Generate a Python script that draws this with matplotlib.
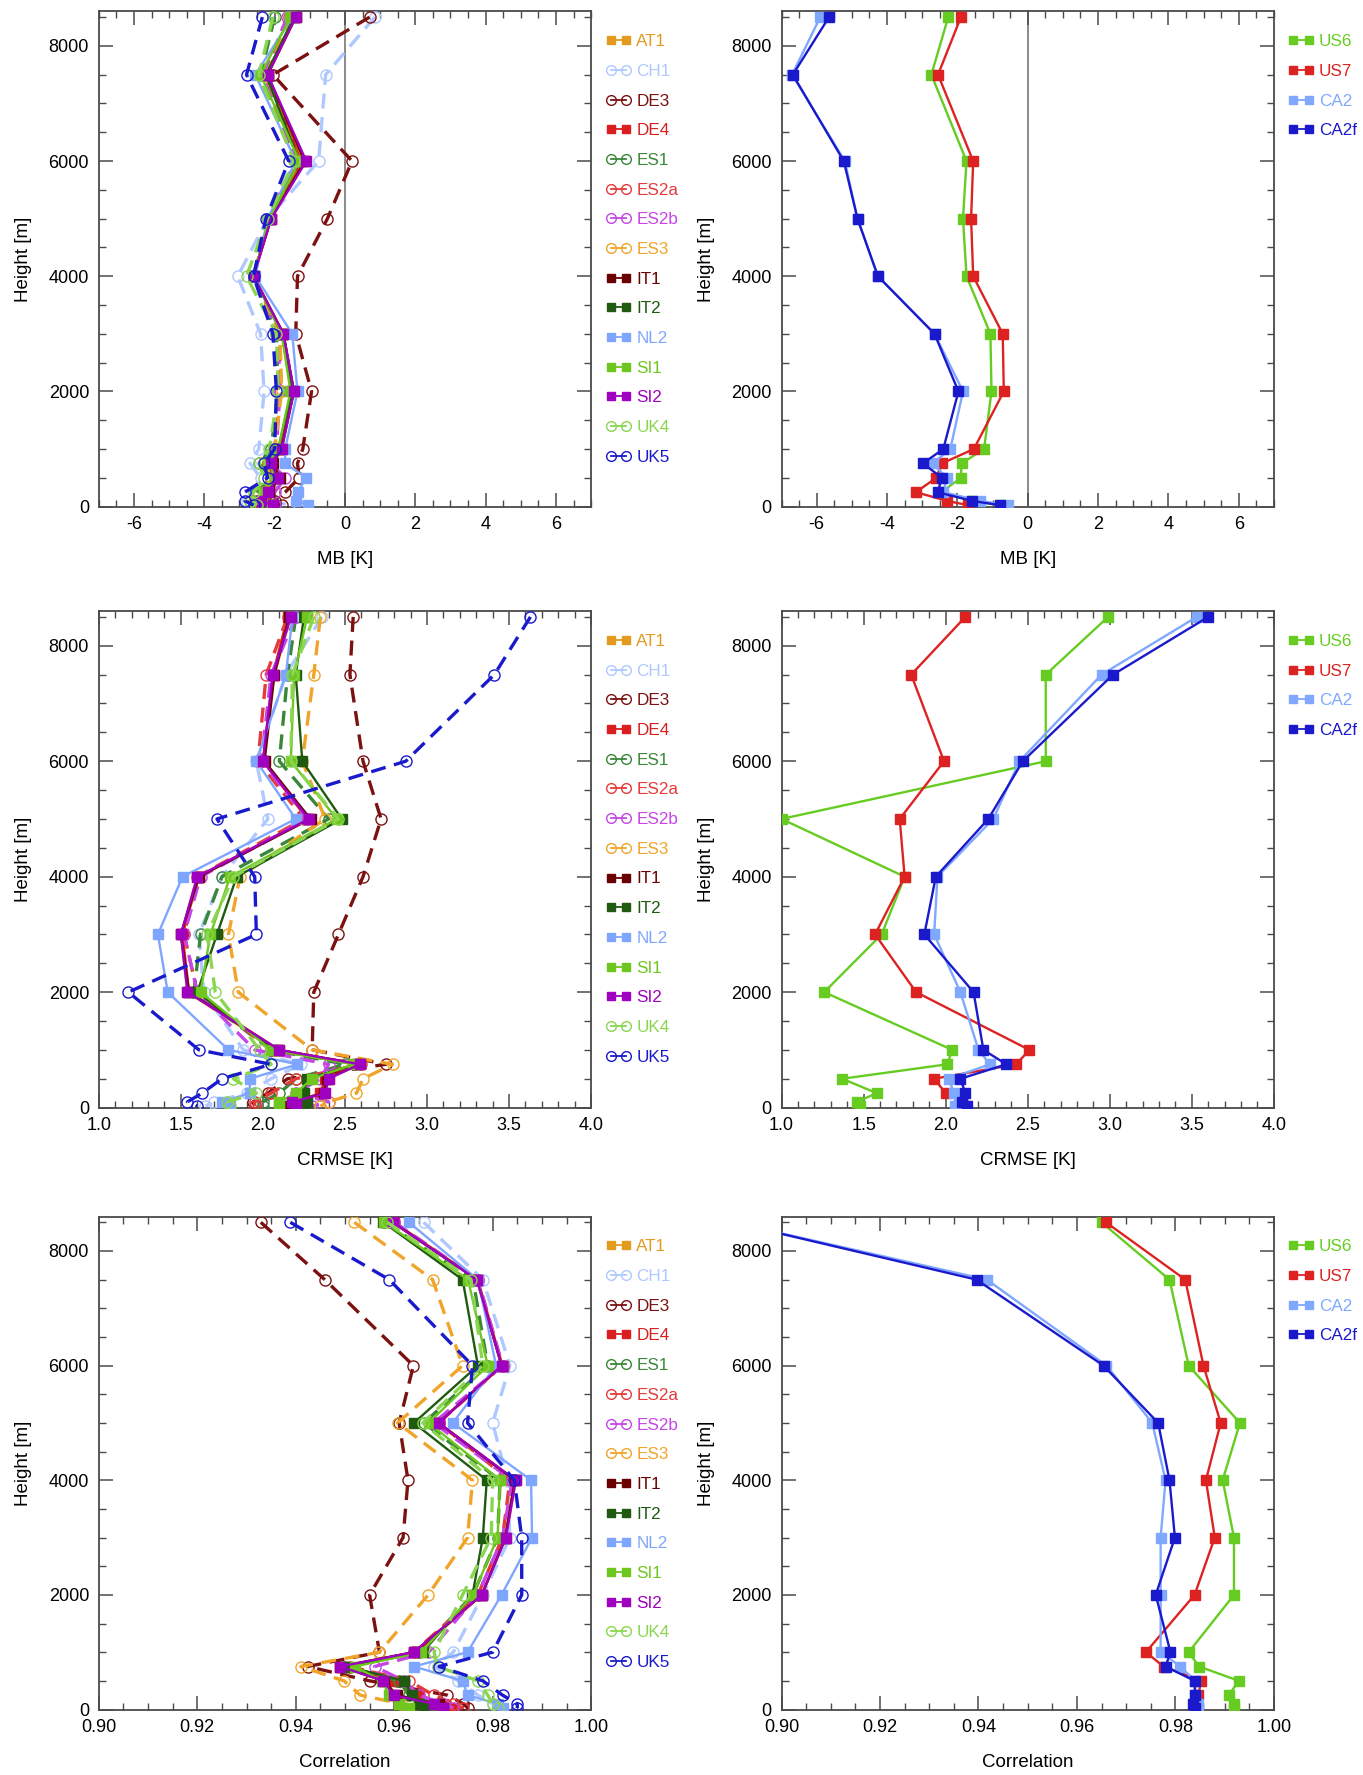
import matplotlib
matplotlib.use("Agg")
import matplotlib.pyplot as plt
from matplotlib.lines import Line2D
from matplotlib.ticker import MultipleLocator

plt.rcParams['font.family'] = ['Liberation Sans', 'DejaVu Sans']

heights = [8500, 7500, 6000, 5000, 4000, 3000, 2000, 1000, 750, 500, 250, 100, 25]

names_left = ["AT1", "CH1", "DE3", "DE4", "ES1", "ES2a", "ES2b", "ES3",
              "IT1", "IT2", "NL2", "SI1", "SI2", "UK4", "UK5"]
names_right = ["US6", "US7", "CA2", "CA2f"]

# ---- MB [K] ----
mb_AT1  = [-1.40, -2.20, -1.20, -2.10, -2.60, -1.75, -1.45, -1.85, -2.10, -1.90, -2.20, -2.40, -2.10]
mb_CH1  = [0.85, -0.55, -0.75, -2.20, -3.05, -2.40, -2.30, -2.45, -2.70, -2.40, -2.60, -2.80, -1.30]
mb_DE3  = [0.70, -2.05, 0.20, -0.50, -1.35, -1.40, -0.95, -1.20, -1.35, -1.30, -1.70, -2.00, -1.80]
mb_DE4  = [-1.45, -2.20, -1.25, -2.15, -2.60, -1.75, -1.50, -1.85, -2.15, -1.95, -2.25, -2.40, -2.20]
mb_ES1  = [-2.00, -2.40, -1.40, -2.20, -2.60, -1.95, -1.90, -2.10, -2.45, -2.10, -2.50, -2.70, -2.30]
mb_ES2a = [-1.60, -2.30, -1.35, -2.15, -2.60, -1.85, -1.85, -2.00, -2.20, -2.00, -2.15, -2.50, -2.20]
mb_ES2b = [-1.65, -2.30, -1.40, -2.20, -2.60, -1.90, -1.85, -1.95, -2.10, -1.70, -2.00, -2.40, -2.00]
mb_ES3  = [-1.50, -2.25, -1.30, -2.15, -2.60, -1.85, -1.80, -2.00, -2.30, -2.10, -2.30, -2.60, -2.30]
mb_IT1  = [-1.40, -2.20, -1.15, -2.10, -2.60, -1.75, -1.45, -1.80, -2.05, -1.85, -2.15, -2.40, -2.10]
mb_IT2  = [-1.45, -2.25, -1.30, -2.15, -2.60, -1.80, -1.50, -1.90, -2.20, -1.95, -2.30, -2.50, -2.20]
mb_NL2  = [-1.50, -2.55, -1.40, -2.20, -2.55, -1.50, -1.35, -1.70, -1.70, -1.10, -1.35, -1.40, -1.05]
mb_SI1  = [-1.55, -2.40, -1.30, -2.15, -2.60, -1.80, -1.55, -1.90, -2.20, -1.95, -2.30, -2.50, -2.10]
mb_SI2  = [-1.40, -2.20, -1.10, -2.10, -2.60, -1.75, -1.45, -1.80, -2.10, -1.90, -2.20, -2.40, -2.05]
mb_UK4  = [-2.05, -2.45, -1.45, -2.20, -2.80, -1.95, -1.90, -2.15, -2.45, -2.30, -2.60, -2.70, -2.50]
mb_UK5  = [-2.35, -2.80, -1.60, -2.25, -2.60, -2.05, -1.95, -2.00, -2.30, -2.20, -2.85, -2.85, -2.60]

mb_US6  = [-2.26, -2.74, -1.74, -1.84, -1.74, -1.06, -1.03, -1.24, -1.88, -1.90, -2.45, -1.60, -0.80]
mb_US7  = [-1.90, -2.55, -1.55, -1.61, -1.55, -0.71, -0.68, -1.53, -2.44, -2.60, -3.18, -2.30, -1.70]
mb_CA2  = [-5.90, -6.70, -5.20, -4.84, -4.26, -2.65, -1.84, -2.20, -2.70, -2.30, -2.40, -1.35, -0.57]
mb_CA2f = [-5.65, -6.68, -5.23, -4.84, -4.26, -2.65, -1.97, -2.40, -2.98, -2.44, -2.56, -1.59, -0.80]

# ---- CRMSE [K] ----
cr_AT1  = [2.17, 2.07, 2.00, 2.28, 1.60, 1.50, 1.54, 2.08, 2.58, 2.40, 2.36, 2.18, 2.15]
cr_CH1  = [2.36, 2.14, 1.96, 2.03, 1.75, 1.61, 1.64, 1.88, 2.23, 2.05, 1.90, 1.70, 1.65]
cr_DE3  = [2.55, 2.53, 2.61, 2.72, 2.61, 2.46, 2.31, 2.30, 2.75, 2.15, 2.03, 1.94, 1.95]
cr_DE4  = [2.15, 2.06, 2.00, 2.27, 1.61, 1.51, 1.55, 2.10, 2.58, 2.38, 2.35, 2.20, 2.20]
cr_ES1  = [2.20, 2.15, 2.10, 2.40, 1.75, 1.62, 1.58, 2.05, 2.50, 2.20, 2.10, 2.00, 2.00]
cr_ES2a = [2.15, 2.02, 1.97, 2.25, 1.60, 1.52, 1.60, 2.05, 2.60, 2.20, 2.05, 1.95, 1.95]
cr_ES2b = [2.20, 2.05, 1.99, 2.27, 1.62, 1.52, 1.60, 1.95, 2.40, 2.35, 2.20, 2.40, 2.30]
cr_ES3  = [2.35, 2.31, 2.24, 2.38, 1.86, 1.79, 1.85, 2.30, 2.79, 2.61, 2.57, 2.40, 2.35]
cr_IT1  = [2.16, 2.07, 2.01, 2.29, 1.61, 1.50, 1.55, 2.09, 2.59, 2.39, 2.37, 2.19, 2.15]
cr_IT2  = [2.25, 2.20, 2.24, 2.48, 1.84, 1.72, 1.60, 2.06, 2.57, 2.27, 2.25, 2.27, 2.25]
cr_NL2  = [2.18, 2.14, 1.96, 2.20, 1.51, 1.36, 1.42, 1.79, 2.21, 1.92, 1.92, 1.75, 1.80]
cr_SI1  = [2.27, 2.19, 2.17, 2.45, 1.80, 1.68, 1.62, 2.05, 2.55, 2.30, 2.20, 2.10, 2.10]
cr_SI2  = [2.17, 2.06, 2.00, 2.28, 1.60, 1.50, 1.54, 2.10, 2.59, 2.40, 2.38, 2.18, 2.20]
cr_UK4  = [2.31, 2.18, 2.17, 2.46, 1.82, 1.66, 1.71, 1.98, 2.05, 1.82, 1.96, 1.78, 1.80]
cr_UK5  = [3.63, 3.41, 2.87, 1.72, 1.95, 1.96, 1.18, 1.61, 2.05, 1.75, 1.63, 1.54, 1.60]

cr_US6  = [2.99, 2.61, 2.61, 1.00, 1.75, 1.61, 1.26, 2.04, 2.01, 1.37, 1.58, 1.46, 1.48]
cr_US7  = [2.12, 1.79, 1.99, 1.72, 1.75, 1.57, 1.82, 2.51, 2.43, 1.93, 2.00, 2.10, 2.12]
cr_CA2  = [3.53, 2.95, 2.45, 2.29, 1.95, 1.93, 2.09, 2.20, 2.27, 2.02, 2.05, 2.08, 2.06]
cr_CA2f = [3.60, 3.02, 2.47, 2.26, 1.94, 1.87, 2.17, 2.23, 2.37, 2.09, 2.12, 2.10, 2.13]

# ---- Correlation ----
co_AT1  = [0.9597, 0.9768, 0.9818, 0.9690, 0.9847, 0.9827, 0.9778, 0.9640, 0.9490, 0.9578, 0.9600, 0.9680, 0.9700]
co_CH1  = [0.9660, 0.9780, 0.9835, 0.9800, 0.9830, 0.9835, 0.9780, 0.9720, 0.9680, 0.9730, 0.9770, 0.9800, 0.9810]
co_DE3  = [0.9329, 0.9459, 0.9639, 0.9610, 0.9628, 0.9618, 0.9550, 0.9570, 0.9424, 0.9550, 0.9708, 0.9740, 0.9750]
co_DE4  = [0.9600, 0.9770, 0.9820, 0.9690, 0.9845, 0.9825, 0.9778, 0.9645, 0.9495, 0.9600, 0.9650, 0.9700, 0.9720]
co_ES1  = [0.9580, 0.9760, 0.9790, 0.9660, 0.9815, 0.9810, 0.9760, 0.9650, 0.9500, 0.9610, 0.9630, 0.9670, 0.9690]
co_ES2a = [0.9600, 0.9770, 0.9820, 0.9690, 0.9835, 0.9820, 0.9770, 0.9640, 0.9510, 0.9630, 0.9680, 0.9720, 0.9740]
co_ES2b = [0.9600, 0.9770, 0.9820, 0.9680, 0.9840, 0.9820, 0.9770, 0.9670, 0.9560, 0.9620, 0.9650, 0.9700, 0.9720]
co_ES3  = [0.9519, 0.9678, 0.9739, 0.9607, 0.9759, 0.9749, 0.9669, 0.9570, 0.9410, 0.9498, 0.9531, 0.9614, 0.9640]
co_IT1  = [0.9597, 0.9768, 0.9818, 0.9690, 0.9845, 0.9826, 0.9778, 0.9640, 0.9490, 0.9580, 0.9605, 0.9690, 0.9700]
co_IT2  = [0.9578, 0.9739, 0.9770, 0.9640, 0.9788, 0.9780, 0.9759, 0.9658, 0.9505, 0.9620, 0.9637, 0.9651, 0.9660]
co_NL2  = [0.9630, 0.9770, 0.9807, 0.9719, 0.9878, 0.9880, 0.9818, 0.9749, 0.9640, 0.9739, 0.9749, 0.9810, 0.9820]
co_SI1  = [0.9580, 0.9750, 0.9790, 0.9670, 0.9815, 0.9810, 0.9760, 0.9655, 0.9520, 0.9575, 0.9590, 0.9610, 0.9630]
co_SI2  = [0.9597, 0.9768, 0.9818, 0.9690, 0.9847, 0.9827, 0.9778, 0.9640, 0.9490, 0.9578, 0.9599, 0.9680, 0.9700]
co_UK4  = [0.9586, 0.9756, 0.9780, 0.9658, 0.9800, 0.9797, 0.9739, 0.9681, 0.9688, 0.9770, 0.9790, 0.9800, 0.9810]
co_UK5  = [0.9389, 0.9590, 0.9759, 0.9749, 0.9844, 0.9859, 0.9859, 0.9800, 0.9691, 0.9780, 0.9820, 0.9850, 0.9850]

co_US6  = [0.9650, 0.9788, 0.9827, 0.9931, 0.9896, 0.9919, 0.9919, 0.9827, 0.9848, 0.9929, 0.9908, 0.9920, 0.9920]
co_US7  = [0.9659, 0.9820, 0.9857, 0.9892, 0.9862, 0.9880, 0.9839, 0.9740, 0.9776, 0.9853, 0.9846, 0.9840, 0.9845]
co_CA2  = [0.8900, 0.9417, 0.9660, 0.9753, 0.9780, 0.9770, 0.9770, 0.9770, 0.9810, 0.9840, 0.9840, 0.9845, 0.9845]
co_CA2f = [0.8900, 0.9396, 0.9654, 0.9765, 0.9788, 0.9799, 0.9760, 0.9790, 0.9780, 0.9839, 0.9840, 0.9835, 0.9840]

mb_left = [mb_AT1, mb_CH1, mb_DE3, mb_DE4, mb_ES1, mb_ES2a, mb_ES2b, mb_ES3,
           mb_IT1, mb_IT2, mb_NL2, mb_SI1, mb_SI2, mb_UK4, mb_UK5]
cr_left = [cr_AT1, cr_CH1, cr_DE3, cr_DE4, cr_ES1, cr_ES2a, cr_ES2b, cr_ES3,
           cr_IT1, cr_IT2, cr_NL2, cr_SI1, cr_SI2, cr_UK4, cr_UK5]
co_left = [co_AT1, co_CH1, co_DE3, co_DE4, co_ES1, co_ES2a, co_ES2b, co_ES3,
           co_IT1, co_IT2, co_NL2, co_SI1, co_SI2, co_UK4, co_UK5]
mb_right = [mb_US6, mb_US7, mb_CA2, mb_CA2f]
cr_right = [cr_US6, cr_US7, cr_CA2, cr_CA2f]
co_right = [co_US6, co_US7, co_CA2, co_CA2f]

# styles: (color, marker, dashed?)
style_left = {
    "AT1":  ("#E39B1F", "s", False),
    "CH1":  ("#AFC8FF", "o", True),
    "DE3":  ("#7B1111", "o", True),
    "DE4":  ("#D81E1E", "s", False),
    "ES1":  ("#3A873A", "o", True),
    "ES2a": ("#E63A3A", "o", True),
    "ES2b": ("#C545E6", "o", True),
    "ES3":  ("#F0A52A", "o", True),
    "IT1":  ("#6A0000", "s", False),
    "IT2":  ("#1F5A10", "s", False),
    "NL2":  ("#7FA6FF", "s", False),
    "SI1":  ("#6EC61E", "s", False),
    "SI2":  ("#A000C0", "s", False),
    "UK4":  ("#8AD650", "o", True),
    "UK5":  ("#1A1ACD", "o", True),
}
style_right = {
    "US6":  ("#66CC22", "s", False),
    "US7":  ("#DD2222", "s", False),
    "CA2":  ("#80A8FF", "s", False),
    "CA2f": ("#1A1ACC", "s", False),
}

fig = plt.figure(figsize=(13.63, 17.75), dpi=100)

colx = [0.0725, 0.5734]
w = 0.3612
rows = [(0.7146, 0.2790), (0.3760, 0.2797), (0.0369, 0.2777)]

AX_COL = "#4a4a4a"


def draw_panel(ax, names, data, styles, xlim, xmaj, xmin, xlabel, fmt, zero_line):
    if zero_line:
        ax.axvline(0, color="#777777", lw=1.2, zorder=1)
    for nm, vals in zip(names, data):
        c, m, dashed = styles[nm]
        if dashed:
            ax.plot(vals, heights, color=c, lw=2.4, ls=(0, (4.5, 2.6)),
                    marker=m, ms=8, mfc="none", mec=c, mew=1.0, zorder=3)
        else:
            ax.plot(vals, heights, color=c, lw=1.7, ls="-",
                    marker=m, ms=6.5, mfc=c, mec=c, mew=1.0, zorder=3)
    ax.set_xlim(*xlim)
    ax.set_ylim(0, 8600)
    ax.xaxis.set_major_locator(MultipleLocator(xmaj))
    ax.xaxis.set_minor_locator(MultipleLocator(xmin))
    ax.yaxis.set_major_locator(MultipleLocator(2000))
    ax.yaxis.set_minor_locator(MultipleLocator(500))
    ax.xaxis.set_major_formatter(plt.FuncFormatter(fmt))
    ax.tick_params(which="both", direction="in", top=True, right=True,
                   colors=AX_COL, labelcolor="black", labelsize=13)
    ax.tick_params(which="major", length=10, width=1.1, pad=7)
    ax.tick_params(which="minor", length=5, width=1.0)
    for s in ax.spines.values():
        s.set_color(AX_COL)
        s.set_linewidth(1.3)
    ax.set_xlabel(xlabel, fontsize=13.5, labelpad=13)
    ax.set_ylabel("Height [m]", fontsize=13.5, labelpad=12)
    handles = []
    for nm in names:
        c, m, dashed = styles[nm]
        handles.append(Line2D([0], [0], color=c, lw=1.3, ls="-", marker=m,
                              ms=(7 if m == "o" else 6), mfc=("none" if m == "o" else c),
                              mec=c, mew=1.0))
    ax.legend(handles, names, loc="upper left", bbox_to_anchor=(0.998, 0.985),
              frameon=False, numpoints=2, handlelength=1.5, handletextpad=0.3,
              labelspacing=0.86, fontsize=12.3, labelcolor="linecolor",
              borderaxespad=0.5)


fmt_int = lambda v, p: f"{v:.0f}"
fmt_1 = lambda v, p: f"{v:.1f}"
fmt_2 = lambda v, p: f"{v:.2f}"

panel_defs = [
    (mb_left, mb_right, (-7, 7), 2, 0.5, "MB [K]", fmt_int, True),
    (cr_left, cr_right, (1.0, 4.0), 0.5, 0.1, "CRMSE [K]", fmt_1, False),
    (co_left, co_right, (0.90, 1.00), 0.02, 0.005, "Correlation", fmt_2, False),
]

for (b, h), (dl, dr, xl, xmaj, xmin, lab, fmt, zl) in zip(rows, panel_defs):
    axl = fig.add_axes([colx[0], b, w, h])
    draw_panel(axl, names_left, dl, style_left, xl, xmaj, xmin, lab, fmt, zl)
    axr = fig.add_axes([colx[1], b, w, h])
    draw_panel(axr, names_right, dr, style_right, xl, xmaj, xmin, lab, fmt, zl)

fig.savefig("out.png", dpi=100)
